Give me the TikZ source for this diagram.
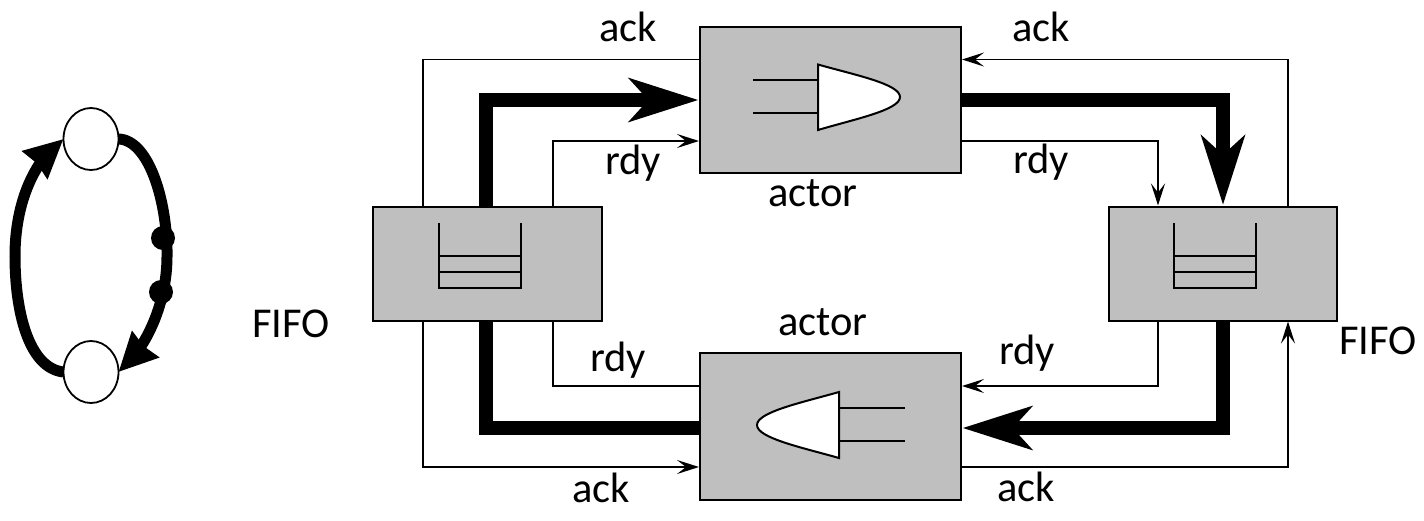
\documentclass[tikz,border=0pt]{standalone}
\usepackage{fontspec}
\setmainfont{Carlito}
\usetikzlibrary{arrows.meta,shapes.geometric,bending}
\definecolor{boxgray}{HTML}{BFBFBF}
\tikzset{
  boxnode/.style={draw=black,fill=boxgray,line width=2pt,rectangle,inner sep=0pt,outer sep=0pt},
  thinline/.style={draw=black,line width=1.8pt},
  thinarrow/.style={thinline,-{Stealth[length=22pt,width=14pt,inset=9pt]},shorten >=1pt},
  thickline/.style={draw=black,line width=14pt},
  thickarrow/.style={thickline,-{Stealth[length=69pt,width=43pt,inset=19pt]},shorten >=1.5pt},
  lab/.style={anchor=base,inner sep=0pt,font=\fontsize{42.5}{50}\selectfont},
  glyph/.style={draw=black,line width=2pt},
  gate/.style={draw=black,fill=white,line width=2pt,line join=miter},
  statenode/.style={ellipse,draw=black,fill=white,line width=1.8pt,minimum width=55pt,minimum height=62pt,inner sep=0pt,outer sep=0pt},
  tokennode/.style={circle,fill=black,minimum size=24pt,inner sep=0pt,outer sep=0pt},
  arcline/.style={draw=black,line width=11pt},
  arcarrow/.style={arcline,-{Stealth[length=38pt,width=36pt,inset=2pt,flex=0.6]}}
}
\begin{document}
\begin{tikzpicture}[x=1pt,y=-1pt]
\useasboundingbox (0,0) rectangle (1424,520);
% boxes
\node[boxnode,minimum width=261pt,minimum height=146pt] (actorT) at (830.5,100) {};
\node[boxnode,minimum width=261pt,minimum height=147pt] (actorB) at (830.5,426.5) {};
\node[boxnode,minimum width=229pt,minimum height=114pt] (fifoL) at (487.5,263.5) {};
\node[boxnode,minimum width=228pt,minimum height=114pt] (fifoR) at (1223,263.5) {};
% thin connectors
\draw[thinline] (423,0 |- fifoL.north) |- (actorT.west |- 0,59.5);
\draw[thinarrow] (553,0 |- fifoL.north) |- (actorT.west |- 0,141);
\draw[thinarrow] (1288,0 |- fifoR.north) |- (actorT.east |- 0,59.5);
\draw[thinarrow] (actorT.east |- 0,141) -| (1158,0 |- fifoR.north);
\draw[thinline] (553,0 |- fifoL.south) |- (actorB.west |- 0,386);
\draw[thinarrow] (423,0 |- fifoL.south) |- (actorB.west |- 0,467);
\draw[thinarrow] (1158,0 |- fifoR.south) |- (actorB.east |- 0,386);
\draw[thinarrow] (actorB.east |- 0,467) -| (1288,0 |- fifoR.south);
% thick connectors
\draw[thickarrow] (486,0 |- fifoL.north) |- (actorT.west |- 0,100);
\draw[thickarrow] (actorT.east |- 0,100) -| (1223,0 |- fifoR.north);
\draw[thickline] (486,0 |- fifoL.south) |- (actorB.west |- 0,428);
\draw[thickarrow] (1223,0 |- fifoR.south) |- (actorB.east |- 0,428);
% gates
\draw[glyph] (753,80) -- (818,80) (753,113) -- (818,113);
\draw[gate] (818,64.5) .. controls (855,75) and (900,84) .. (900,97) .. controls (900,110) and (855,119) .. (818,130) -- cycle;
\draw[glyph] (905,408) -- (839,408) (905,441) -- (839,441);
\draw[gate] (839,392) .. controls (802,402.5) and (757,412) .. (757,425) .. controls (757,438) and (802,447.5) .. (839,458) -- cycle;
% FIFO glyphs
\draw[glyph] (439,223) -- (439,288) -- (521,288) -- (521,223) (439,256) -- (521,256) (439,272) -- (521,272);
\draw[glyph] (1174,223) -- (1174,288) -- (1256,288) -- (1256,223) (1174,256) -- (1256,256) (1174,272) -- (1256,272);
% labels
\node[lab] (ackTL) at (628,41) {ack};
\node[lab] (ackTR) at (1041,41) {ack};
\node[lab] (rdyTL) at (633,174) {rdy};
\node[lab] (rdyTR) at (1041,173) {rdy};
\node[lab] (actT) at (813,206) {actor};
\node[lab] (actB) at (823,335) {actor};
\node[lab] (fifoLabL) at (291,337) {FIFO};
\node[lab] (fifoLabR) at (1378,354) {FIFO};
\node[lab] (rdyBL) at (618,371) {rdy};
\node[lab] (rdyBR) at (1027,364) {rdy};
\node[lab] (ackBL) at (601,502) {ack};
\node[lab] (ackBR) at (1026,501) {ack};
% left graph
\node[statenode] (s1) at (91,139) {};
\node[statenode] (s2) at (91,372) {};
\draw[arcarrow] (s2.west) .. controls (28,368) and (15,310) .. (15,256) .. controls (15,205) and (33,160) .. (s1.west);
\draw[arcarrow] (s1.east) .. controls (150,140) and (168,205) .. (167,257) .. controls (167,300) and (148,348) .. (s2.east);
\node[tokennode] (t1) at (163,238) {};
\node[tokennode] (t2) at (161,292) {};
\end{tikzpicture}
\end{document}
